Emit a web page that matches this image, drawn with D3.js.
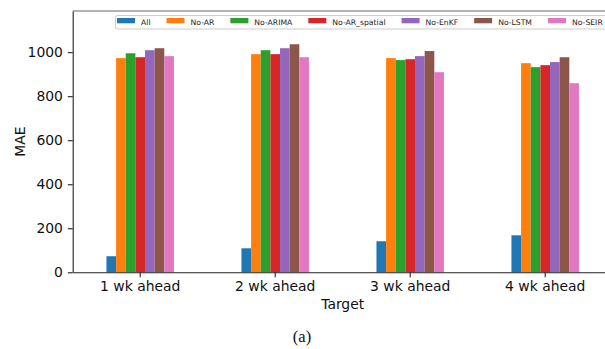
<!DOCTYPE html>
<html>
<head>
<meta charset="utf-8">
<script src="https://cdn.jsdelivr.net/npm/d3@7"></script>
<style>
  html, body { margin: 0; padding: 0; background: #fff; }
  svg { display: block; }
  text { font-family: "DejaVu Sans", sans-serif; }
</style>
</head>
<body>
<svg id="chart" width="605" height="349"></svg>
<script>
// Forecast targets (x categories)
const targets = ["1 wk ahead", "2 wk ahead", "3 wk ahead", "4 wk ahead"];

// Ablation variants (legend order)
const variants = ["All", "No-AR", "No-ARIMA", "No-AR_spatial", "No-EnKF", "No-LSTM", "No-SEIR"];

// MAE per variant, one value per target
const maeAll        = [73, 109, 141, 168];
const maeNoAR       = [973, 991, 973, 950];
const maeNoARIMA    = [995, 1009, 964, 932];
const maeNoARSpat   = [977, 991, 968, 941];
const maeNoEnKF     = [1009, 1018, 982, 955];
const maeNoLSTM     = [1018, 1036, 1005, 977];
const maeNoSEIR     = [982, 977, 909, 859];

const yTicks = [0, 200, 400, 600, 800, 1000];
const yMax = 1187;

const colors = ["#1f77b4", "#ff7f0e", "#2ca02c", "#d62728", "#9467bd", "#8c564b", "#e377c2"];

const seriesValues = [maeAll, maeNoAR, maeNoARIMA, maeNoARSpat, maeNoEnKF, maeNoLSTM, maeNoSEIR];

const svg = d3.select("#chart");

// Plot area (right part runs past the edge of the page)
const plotLeft = 72.7, plotTop = 11, plotBottom = 272.3, plotRight = 612.7;

const x = d3.scaleBand().domain(targets).range([plotLeft, plotRight]).padding(0);
const groupW = x.bandwidth() * 0.5;
const xInner = d3.scaleBand().domain(variants).range([0, groupW]).padding(0);
const y = d3.scaleLinear().domain([0, yMax]).range([plotBottom, plotTop]);

// Bars
variants.forEach((v, i) => {
  svg.append("g")
    .attr("fill", colors[i])
    .selectAll("rect")
    .data(targets.map((t, j) => ({ t, v: seriesValues[i][j] })))
    .join("rect")
    .attr("x", d => x(d.t) + x.bandwidth() / 2 - groupW / 2 + xInner(v))
    .attr("y", d => y(d.v))
    .attr("width", xInner.bandwidth())
    .attr("height", d => y(0) - y(d.v));
});

// Axes
const tickLen = 4.9;
const xAxis = svg.append("g")
  .attr("transform", `translate(0,${plotBottom})`)
  .call(d3.axisBottom(x).tickSize(tickLen).tickPadding(4.9).tickSizeOuter(0));
xAxis.select(".domain").attr("stroke", "#222").attr("stroke-width", 1.1);
xAxis.selectAll(".tick line").attr("stroke", "#222").attr("stroke-width", 1.1);
xAxis.selectAll(".tick text").attr("font-size", 13.9).attr("fill", "#111")
  .attr("dy", null).attr("y", 19);

const yAxis = svg.append("g")
  .attr("transform", `translate(${plotLeft},0)`)
  .call(d3.axisLeft(y).tickValues(yTicks).tickFormat(d3.format("d"))
    .tickSize(tickLen).tickPadding(4.9).tickSizeOuter(0));
yAxis.select(".domain").attr("stroke", "#222").attr("stroke-width", 1.1);
yAxis.selectAll(".tick line").attr("stroke", "#222").attr("stroke-width", 1.1);
yAxis.selectAll(".tick text").attr("font-size", 13.9).attr("fill", "#111");

// Top spine
svg.append("line")
  .attr("x1", plotLeft).attr("x2", plotRight)
  .attr("y1", plotTop).attr("y2", plotTop)
  .attr("stroke", "#666").attr("stroke-width", 1.1);

// Axis titles
svg.append("text")
  .attr("x", (plotLeft + plotRight) / 2).attr("y", 308.5)
  .attr("text-anchor", "middle")
  .attr("font-size", 13.9).attr("fill", "#111")
  .text("Target");

svg.append("text")
  .attr("transform", "translate(24.5,141.5) rotate(-90)")
  .attr("text-anchor", "middle")
  .attr("font-size", 13.9).attr("fill", "#111")
  .text("MAE");

// Legend
const legend = svg.append("g");
legend.append("rect")
  .attr("x", 115.5).attr("y", 15.5)
  .attr("width", 500).attr("height", 13.5)
  .attr("rx", 2).attr("fill", "#fff").attr("fill-opacity", 0.8)
  .attr("stroke", "#ccc").attr("stroke-width", 1);

let lx = 117;
variants.forEach((v, i) => {
  legend.append("rect")
    .attr("x", lx).attr("y", 18)
    .attr("width", 18).attr("height", 5.3)
    .attr("fill", colors[i]);
  const t = legend.append("text")
    .attr("x", lx + 24).attr("y", 24.6)
    .attr("font-size", 7.7).attr("fill", "#222")
    .text(v);
  lx += 24 + t.node().getComputedTextLength() + 16;
});

// Caption
svg.append("text")
  .attr("x", 302).attr("y", 341.5)
  .attr("text-anchor", "middle")
  .style("font-family", "'Liberation Serif', 'Times New Roman', serif")
  .attr("font-size", 16.5).attr("fill", "#111")
  .text("(a)");
</script>
</body>
</html>
